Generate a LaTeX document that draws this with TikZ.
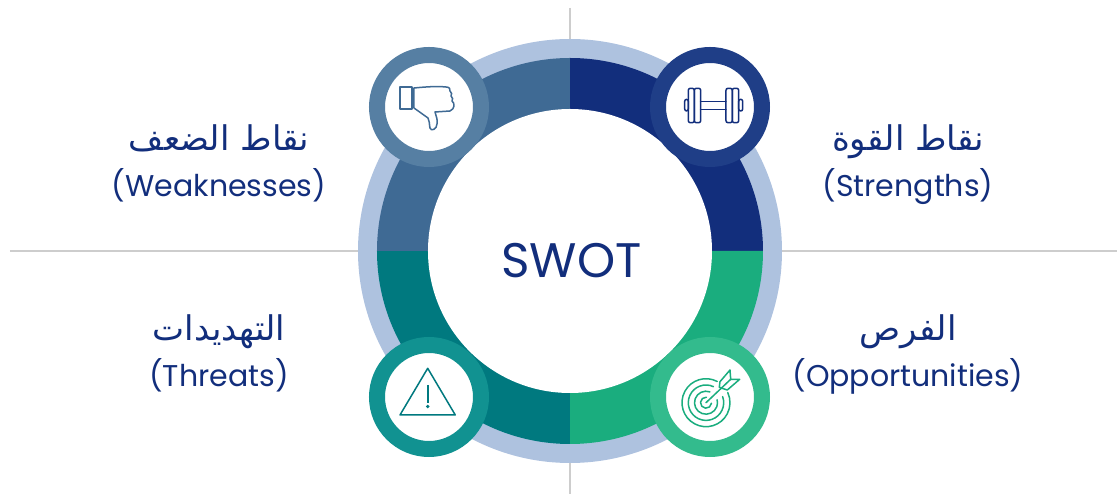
\documentclass[tikz,border=0pt]{standalone}
\usepackage{fontspec}
\setmainfont{Poppins}
\newfontfamily\arabicfont[Script=Arabic]{DejaVu Sans}
\TeXXeTstate=1
\definecolor{navy}{HTML}{122E7C}
\definecolor{navylight}{HTML}{1F3E87}
\definecolor{steel}{HTML}{3F6A94}
\definecolor{steellight}{HTML}{567FA3}
\definecolor{teal1}{HTML}{00797F}
\definecolor{teallight}{HTML}{119291}
\definecolor{jade}{HTML}{1AAD7E}
\definecolor{jadelight}{HTML}{33BB8D}
\definecolor{halo}{HTML}{AEC2DF}
\definecolor{rule1}{HTML}{CDCDCD}
\tikzstyle{badge} = [circle, minimum size=104pt, inner sep=0pt, line width=16pt, fill=white]
\tikzstyle{latinlabel} = [text=navy, font=\fontsize{30}{34}\selectfont, inner sep=0pt, text height=22pt, text depth=7pt]
\tikzstyle{arabiclabel} = [text=navy, font=\fontsize{34}{38}\selectfont\arabicfont, inner sep=0pt, text height=24pt, text depth=10pt]
\tikzstyle{iconline} = [line width=1.5pt, line join=round, line cap=round]

\begin{document}
\begin{tikzpicture}[x=1pt, y=1pt, node distance=45.5pt]
    \useasboundingbox (-570,-243) rectangle (547,251);

    \coordinate (north) at (0,243);
    \coordinate (south) at (0,-243);
    \coordinate (west) at (-560,-0.5);
    \coordinate (east) at (547,-0.5);
    \draw [rule1, line width=2pt] (north) -- (south);
    \draw [rule1, line width=2pt] (west) -- (east);

    \fill [halo] (0,0) circle (212);
    \fill [navy] (0,0) -- (0,193) arc [start angle=90, end angle=0, radius=193pt] -- cycle;
    \fill [jade] (0,0) -- (193,0) arc [start angle=0, end angle=-90, radius=193pt] -- cycle;
    \fill [teal1] (0,0) -- (0,-193) arc [start angle=270, end angle=180, radius=193pt] -- cycle;
    \fill [steel] (0,0) -- (-193,0) arc [start angle=180, end angle=90, radius=193pt] -- cycle;

    \node (core) [circle, fill=white, minimum size=284pt, inner sep=0pt] at (0,0) {};
    \node (swot) [text=navy, font=\fontsize{48.5}{56}\selectfont, inner sep=0pt] at (1.5,-10) {SWOT};

    \node (weakbadge) [badge, draw=steellight] at (-141,144) {};
    \node (strongbadge) [badge, draw=navylight] at (140,144) {};
    \node (threatbadge) [badge, draw=teallight] at (-141,-146) {};
    \node (oppbadge) [badge, draw=jadelight] at (140,-146) {};

    % thumb down
    \begin{scope}[shift={(weakbadge.center)}, iconline, draw=steel]
        \draw (-29,20) rectangle (-17,-2);
        \draw (-15,19) .. controls (-5,20) and (8,21) .. (17,20) .. controls (20,20) and (22,18) .. (21,16)
            .. controls (23,15) and (23,12) .. (22,11) .. controls (24,10) and (24,7) .. (23,6)
            .. controls (26,4) and (26,-2) .. (21,-4) -- (6,-5)
            .. controls (7,-9) and (9,-13) .. (8,-17) .. controls (8,-22) and (2,-25) .. (1,-21)
            .. controls (0,-17) and (1,-14) .. (-1,-11) -- (-15,-1) -- cycle;
    \end{scope}

    % dumbbell
    \begin{scope}[shift={(strongbadge.center)}, iconline, draw=navy, rounded corners=2pt]
        \draw (-25.3,7.7) rectangle (-21.7,-4);
        \draw (-21.7,18.7) rectangle (-15.7,-15.7);
        \draw (-15.7,18.7) rectangle (-9.3,-15.7);
        \draw (16,18.7) rectangle (22.3,-15.7);
        \draw (22.3,18.7) rectangle (28.7,-15.7);
        \draw (28.7,7.7) rectangle (32.7,-4);
        \draw [sharp corners] (-9.3,5.3) -- (16,5.3);
        \draw [sharp corners] (-9.3,-2.3) -- (16,-2.3);
    \end{scope}

    % warning sign
    \begin{scope}[shift={(threatbadge.center)}, iconline, draw=teal1]
        \draw (-1.3,28.7) -- (-29,-18) -- (26.3,-18) -- cycle;
        \draw [line width=1.8pt, line cap=butt] (-1.3,12) -- (-1.3,-6);
        \fill [teal1] (-1.3,-9.5) circle (1.9);
    \end{scope}

    % target and arrow
    \begin{scope}[shift={(oppbadge.center)}, iconline, draw=jade]
        \draw (-4,-5.7) ++(62:24) arc [start angle=62, end angle=385, radius=24pt];
        \draw (-4,-5.7) ++(65:17.7) arc [start angle=65, end angle=380, radius=17.7pt];
        \draw (-4,-5.7) ++(70:11.5) arc [start angle=70, end angle=375, radius=11.5pt];
        \draw (-4,-5.7) ++(85:5.5) arc [start angle=85, end angle=355, radius=5.5pt];
        \draw (-4,-5.7) -- (20.7,17.7);
        \draw (10,15.3) -- (20,27) -- (20.7,17.7) -- (29.7,17.7) -- (17.3,7) -- (9.3,9.7) -- cycle;
    \end{scope}

    \node (weaklabel) [latinlabel] at (-351,61.5) {(Weaknesses)};
    \node (weakarabic) [arabiclabel, above of=weaklabel] {\beginR نقاط الضعف\endR};
    \node (stronglabel) [latinlabel] at (338,61.5) {(Strengths)};
    \node (strongarabic) [arabiclabel, above of=stronglabel] {\beginR نقاط القوة\endR};
    \node (threatlabel) [latinlabel] at (-351,-128.5) {(Threats)};
    \node (threatarabic) [arabiclabel, above of=threatlabel] {\beginR التهديدات\endR};
    \node (opplabel) [latinlabel] at (338,-128.5) {(Opportunities)};
    \node (opparabic) [arabiclabel, above of=opplabel] {\beginR الفرص\endR};
\end{tikzpicture}
\end{document}
